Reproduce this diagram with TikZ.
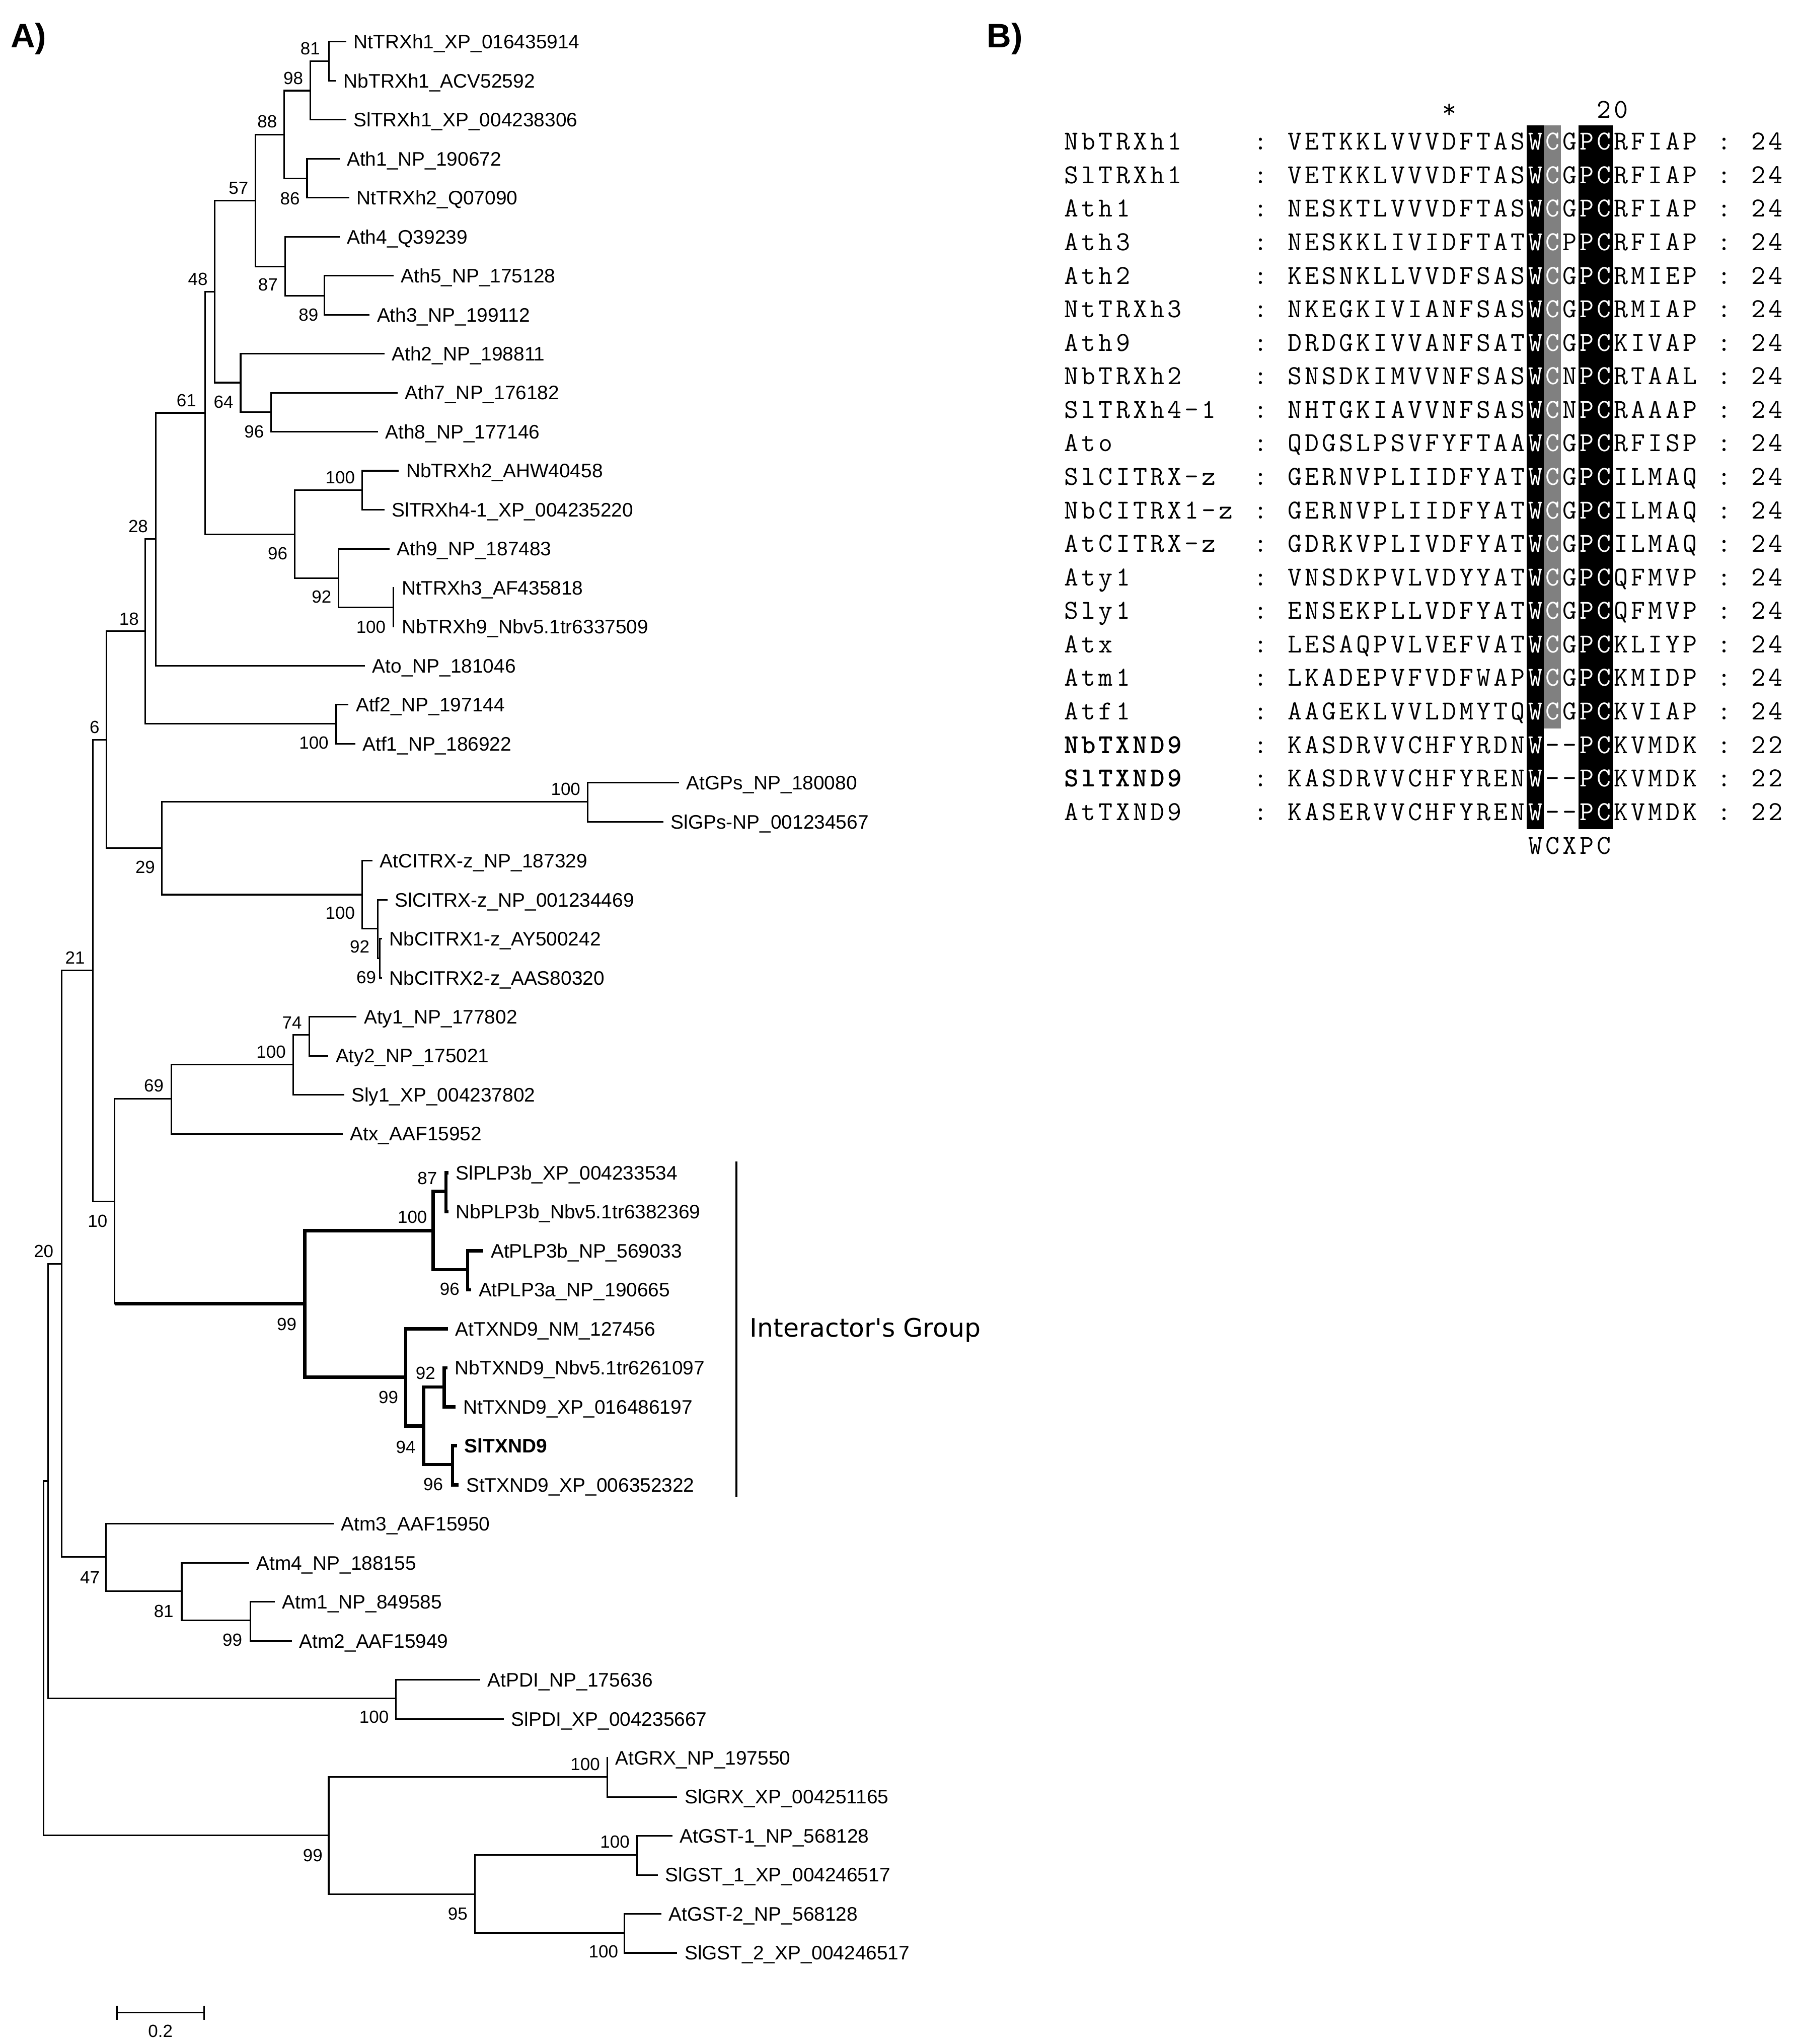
\documentclass[tikz,border=0pt]{standalone}
\usepackage{fontspec}
\setmainfont{Liberation Sans}
\newfontfamily\grpfont{DejaVu Sans}

% one residue per column of the alignment
\newcount\alncol
\def\alnx{815.5}
\def\alny{0}
\def\alnfg{black}
\def\alnwt{m}
\def\alnrow{h}
\def\alnchars#1{%
  \ifx#1\relax\else
    \node[res] (c\alnrow-\the\alncol) at ({\alnx+13.18*(\the\alncol+0.5)},\alny) {#1};%
    \global\advance\alncol by 1
    \expandafter\alnchars
  \fi}

\tikzset{
  branch/.style={line width=1.2pt},
  ibranch/.style={line width=2.6pt},
  leaf/.style={anchor=west, inner xsep=5.5pt, inner ysep=0pt,
    text height=10.7pt, text depth=0pt, font=\fontsize{15}{18}\selectfont},
  boot/.style={inner sep=0pt, text height=9.7pt, text depth=0pt,
    font=\fontsize{13.5}{16}\selectfont},
  res/.style={anchor=base, inner sep=0pt, text=\alnfg,
    font=\ttfamily\fontseries{\alnwt}\fontsize{21}{24}\selectfont},
  panel/.style={anchor=base west, inner sep=0pt,
    font=\bfseries\fontsize{26}{30}\selectfont},
}

\begin{document}
\begin{tikzpicture}[x=1pt,y=-1pt]
\useasboundingbox (0,0) rectangle (1380,1568);

\node[panel] (pa) at (8,36.6) {A)};
\node[panel] (pb) at (757,36.6) {B)};

% leaves
\foreach \lx/\lt [count=\i] in {
  265.6/NtTRXh1\_XP\_016435914, 258/NbTRXh1\_ACV52592,
  265.6/SlTRXh1\_XP\_004238306, 260.5/Ath1\_NP\_190672,
  268/NtTRXh2\_Q07090, 260.5/Ath4\_Q39239,
  302/Ath5\_NP\_175128, 283.6/Ath3\_NP\_199112,
  295/Ath2\_NP\_198811, 305/Ath7\_NP\_176182,
  290/Ath8\_NP\_177146, 306/NbTRXh2\_AHW40458,
  295/SlTRXh4-1\_XP\_004235220, 299/Ath9\_NP\_187483,
  302.5/NtTRXh3\_AF435818, 302.5/NbTRXh9\_Nbv5.1tr6337509,
  280/Ato\_NP\_181046, 267.4/Atf2\_NP\_197144,
  272.5/Atf1\_NP\_186922, 521/AtGPs\_NP\_180080,
  509/SlGPs-NP\_001234567, 285.7/AtCITRX-z\_NP\_187329,
  297.4/SlCITRX-z\_NP\_001234469, 293/NbCITRX1-z\_AY500242,
  293/NbCITRX2-z\_AAS80320, 273.6/Aty1\_NP\_177802,
  251.9/Aty2\_NP\_175021, 264/Sly1\_XP\_004237802,
  263/Atx\_AAF15952, 344/SlPLP3b\_XP\_004233534,
  344/NbPLP3b\_Nbv5.1tr6382369, 370.9/AtPLP3b\_NP\_569033,
  361.6/AtPLP3a\_NP\_190665, 343.8/AtTXND9\_NM\_127456,
  343.3/NbTXND9\_Nbv5.1tr6261097, 349.7/NtTXND9\_XP\_016486197,
  350.7/{\textbf{SlTXND9}}, 352/StTXND9\_XP\_006352322,
  256/Atm3\_AAF15950, 191/Atm4\_NP\_188155,
  210.8/Atm1\_NP\_849585, 224/Atm2\_AAF15949,
  368.4/AtPDI\_NP\_175636, 386.6/SlPDI\_XP\_004235667,
  466.5/AtGRX\_NP\_197550, 519.6/SlGRX\_XP\_004251165,
  516/AtGST-1\_NP\_568128, 504.8/SlGST\_1\_XP\_004246517,
  507.3/AtGST-2\_NP\_568128, 519.6/SlGST\_2\_XP\_004246517}
  \node[leaf] (l\i) at (\lx,{32+29.92*(\i-1)}) {\lt};

% inner nodes
\coordinate (n81) at (252.5,47);
\coordinate (n98) at (238,69.5);
\coordinate (n86) at (235.6,137);
\coordinate (n88) at (218,103.3);
\coordinate (n89) at (249,227);
\coordinate (n87) at (218.7,204.5);
\coordinate (n57) at (196,153.9);
\coordinate (n96a) at (208,316);
\coordinate (n64) at (184.6,293.5);
\coordinate (n48) at (164.6,223.7);
\coordinate (n100a) at (277.7,376);
\coordinate (n100b) at (301.9,466);
\coordinate (n92a) at (259.8,443.5);
\coordinate (n96b) at (226,409.8);
\coordinate (n61) at (157.3,316.7);
\coordinate (n28) at (119.7,413.4);
\coordinate (n100c) at (258,555);
\coordinate (n18) at (111.4,484.2);
\coordinate (n100d) at (451,615);
\coordinate (n69a) at (291.5,735);
\coordinate (n92b) at (289.8,712.5);
\coordinate (n100e) at (277.7,686.3);
\coordinate (n29) at (124.2,650.6);
\coordinate (n6) at (81.8,567.4);
\coordinate (n74) at (237.4,794);
\coordinate (n100f) at (225,816.5);
\coordinate (n69b) at (131.4,842.8);
\coordinate (n87b) at (342.2,914);
\coordinate (n96c) at (358.8,974);
\coordinate (n100g) at (332.2,944);
\coordinate (n92c) at (340.8,1064);
\coordinate (n96d) at (347.2,1123.5);
\coordinate (n94) at (325,1093.8);
\coordinate (n99a) at (311.3,1056.4);
\coordinate (n99b) at (233.9,1000.2);
\coordinate (n10) at (88,921.5);
\coordinate (n21) at (71.4,744.5);
\coordinate (n99c) at (192,1243);
\coordinate (n81b) at (139.4,1220.5);
\coordinate (n47) at (81.3,1194.3);
\coordinate (n20) at (47.3,969.4);
\coordinate (n100h) at (303.9,1303);
\coordinate (nA) at (37,1136.2);
\coordinate (n100i) at (465.9,1363);
\coordinate (n100j) at (488.6,1423);
\coordinate (n100k) at (479.2,1483);
\coordinate (n95) at (364.5,1453);
\coordinate (n99d) at (252.2,1408);
\coordinate (root) at (33.5,1272);

\foreach \p/\c in {n81/l1, n81/l2, n98/n81, n98/l3, n86/l4, n86/l5,
  n88/n98, n88/n86, n89/l7, n89/l8, n87/l6, n87/n89, n57/n88, n57/n87,
  n96a/l10, n96a/l11, n64/l9, n64/n96a, n48/n57, n48/n64,
  n100a/l12, n100a/l13, n100b/l15, n100b/l16, n92a/l14, n92a/n100b,
  n96b/n100a, n96b/n92a, n61/n48, n61/n96b, n28/n61, n28/l17,
  n100c/l18, n100c/l19, n18/n28, n18/n100c, n100d/l20, n100d/l21,
  n69a/l24, n69a/l25, n92b/l23, n92b/n69a, n100e/l22, n100e/n92b,
  n29/n100d, n29/n100e, n6/n18, n6/n29, n74/l26, n74/l27,
  n100f/n74, n100f/l28, n69b/n100f, n69b/l29, n10/n69b, n10/n99b,
  n21/n6, n21/n10, n99c/l41, n99c/l42, n81b/l40, n81b/n99c,
  n47/l39, n47/n81b, n20/n21, n20/n47, n100h/l43, n100h/l44,
  nA/n20, nA/n100h, n100i/l45, n100i/l46, n100j/l47, n100j/l48,
  n100k/l49, n100k/l50, n95/n100j, n95/n100k, n99d/n100i, n99d/n95,
  root/nA, root/n99d}
  \draw[branch] (\p) |- (\c);

% interactor clade in bold
\draw[ibranch] (n10 |- n99b) -- (n99b);
\foreach \p/\c in {n99b/n100g, n99b/n99a, n100g/n87b, n100g/n96c,
  n87b/l30, n87b/l31, n96c/l32, n96c/l33, n99a/l34, n99a/n94,
  n94/n92c, n94/n96d, n92c/l35, n92c/l36, n96d/l37, n96d/l38}
  \draw[ibranch] (\p) |- (\c);

% bootstrap values
\foreach \bx/\by/\bv [count=\j] in {238/37/81, 225/60/98, 205/93/88,
  222.5/152/86, 183/144/57, 205.6/218/87, 236.7/241.5/89, 151.8/214/48,
  143/307/61, 171.5/308/64, 195/331/96, 261/366/100, 106/403.5/28,
  213/424.6/96, 246.7/457.8/92, 284.6/480.7/100, 99/474.5/18,
  72.5/557.6/6, 240.8/569.7/100, 434/605/100, 111.4/665/29,
  261/700.3/100, 276/726.2/92, 281/749.5/69, 57.6/734.6/21,
  224/784.5/74, 208/806.6/100, 118/832.6/69, 327.8/903.5/87,
  316.4/933.4/100, 74.9/936.7/10, 33.5/959.6/20, 345/988.8/96,
  220/1015.6/99, 298/1071.7/99, 311.3/1109.8/94, 326.5/1053.3/92,
  332.4/1138.6/96, 69/1210/47, 125.6/1236/81, 178.3/1258/99,
  287/1317/100, 449/1353.3/100, 240/1423.2/99, 351.2/1467.9/95,
  471.8/1412.6/100, 463/1497/100}
  \node[boot] (b\j) at (\bx,\by) {\bv};

% group bracket
\coordinate (gtop) at (565,891);
\coordinate (gbot) at (565,1148);
\draw[branch] (gtop) -- (gbot);
\node[anchor=base west, inner sep=0pt, font=\grpfont\fontsize{19.5}{22}\selectfont]
  (grp) at (575.2,1025.6) {Interactor's Group};

% scale bar
\coordinate (sb1) at (89.6,1543.8);
\coordinate (sb2) at (156.6,1543.8);
\draw[branch] (sb1) -- (sb2);
\draw[branch] (89.6,1538.6) -- (89.6,1549.6);
\draw[branch] (156.6,1538.6) -- (156.6,1549.6);
\node[boot] (sbl) at (123.1,1558) {0.2};

% B) alignment
\fill[black] (1171.4,96.25) rectangle (1184.6,636);
\fill[gray] (1184.6,96.25) rectangle (1197.8,558.9);
\fill[black] (1211,96.25) rectangle (1237.4,636);

\def\alny{90.4}
\global\alncol=22 \alnchars*\relax
\global\alncol=31 \alnchars20\relax

\foreach \rw/\rname/\rwt/\rlft/\rcb/\rcbc/\rcc/\rrgt/\rlen in {
  1/NbTRXh1/m/VETKKLVVVDFTAS/C/white/G/RFIAP/24,
  2/SlTRXh1/m/VETKKLVVVDFTAS/C/white/G/RFIAP/24,
  3/Ath1/m/NESKTLVVVDFTAS/C/white/G/RFIAP/24,
  4/Ath3/m/NESKKLIVIDFTAT/C/white/P/RFIAP/24,
  5/Ath2/m/KESNKLLVVDFSAS/C/white/G/RMIEP/24,
  6/NtTRXh3/m/NKEGKIVIANFSAS/C/white/G/RMIAP/24,
  7/Ath9/m/DRDGKIVVANFSAT/C/white/G/KIVAP/24,
  8/NbTRXh2/m/SNSDKIMVVNFSAS/C/white/N/RTAAL/24,
  9/SlTRXh4-1/m/NHTGKIAVVNFSAS/C/white/N/RAAAP/24,
  10/Ato/m/QDGSLPSVFYFTAA/C/white/G/RFISP/24,
  11/SlCITRX-z/m/GERNVPLIIDFYAT/C/white/G/ILMAQ/24,
  12/NbCITRX1-z/m/GERNVPLIIDFYAT/C/white/G/ILMAQ/24,
  13/AtCITRX-z/m/GDRKVPLIVDFYAT/C/white/G/ILMAQ/24,
  14/Aty1/m/VNSDKPVLVDYYAT/C/white/G/QFMVP/24,
  15/Sly1/m/ENSEKPLLVDFYAT/C/white/G/QFMVP/24,
  16/Atx/m/LESAQPVLVEFVAT/C/white/G/KLIYP/24,
  17/Atm1/m/LKADEPVFVDFWAP/C/white/G/KMIDP/24,
  18/Atf1/m/AAGEKLVVLDMYTQ/C/white/G/KVIAP/24,
  19/NbTXND9/b/KASDRVVCHFYRDN/-/black/-/KVMDK/22,
  20/SlTXND9/b/KASDRVVCHFYREN/-/black/-/KVMDK/22,
  21/AtTXND9/m/KASERVVCHFYREN/-/black/-/KVMDK/22}
{
  \pgfmathsetmacro\alny{115+25.71*(\rw-1)}
  \def\alnrow{\rw}
  \global\alncol=0 \def\alnwt{\rwt}\expandafter\alnchars\rname\relax
  \def\alnwt{m}
  \global\alncol=11 \alnchars:\relax
  \global\alncol=13 \expandafter\alnchars\rlft\relax
  \def\alnfg{white}\alnchars W\relax
  \def\alnfg{\rcbc}\expandafter\alnchars\rcb\relax
  \def\alnfg{black}\expandafter\alnchars\rcc\relax
  \def\alnfg{white}\alnchars PC\relax
  \def\alnfg{black}\expandafter\alnchars\rrgt\relax
  \global\alncol=38 \alnchars:\relax
  \global\alncol=40 \expandafter\alnchars\rlen\relax
}

\def\alnrow{f}\def\alny{655.2}
\global\alncol=27 \alnchars WCXPC\relax
\end{tikzpicture}
\end{document}
